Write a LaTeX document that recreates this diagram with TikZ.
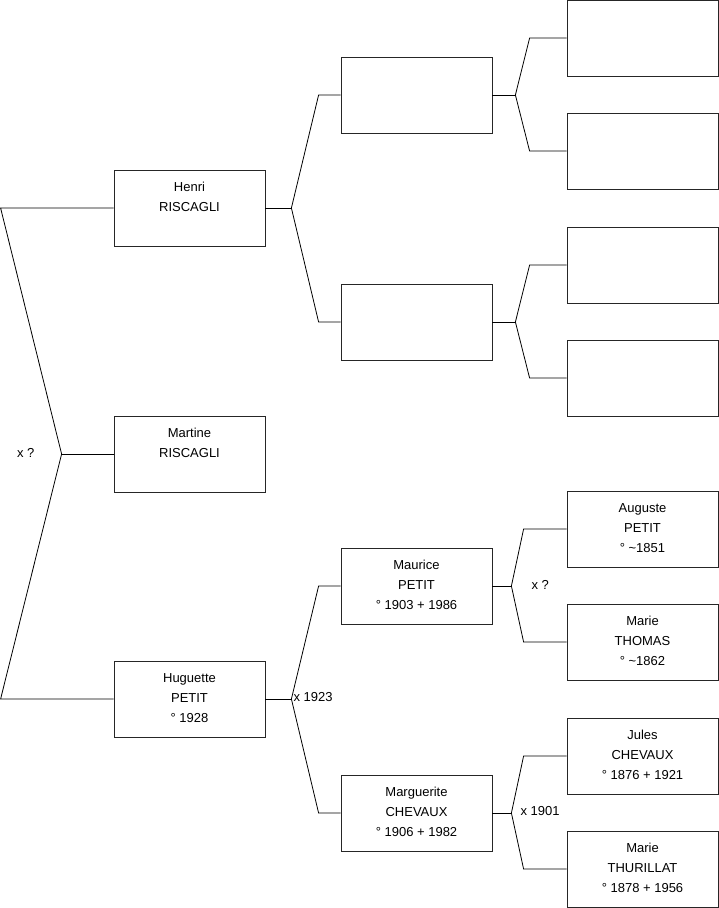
\documentclass[tikz,border=0pt]{standalone}
\usepackage{fontspec}
\setmainfont{Liberation Sans}
\usetikzlibrary{positioning}
\tikzset{
  person/.style={rectangle, draw=black!85, fill=white, line width=0.8pt,
                 minimum width=151pt, minimum height=76pt, inner sep=0pt},
  names/.style={align=center, inner sep=0pt, font=\fontsize{13}{20}\selectfont},
  union/.style={inner sep=0pt, yshift=1.5pt, font=\fontsize{13}{16}\selectfont},
  link/.style={draw=black, line width=0.8pt},
}

\begin{document}
\begin{tikzpicture}[x=1pt, y=-1pt]
  \useasboundingbox (0,0) rectangle (719,908);

  % generation 1
  \node[person] (henri) at (189.5,208) {};
  \node[names, below=12.5pt of henri.north] (henrit) {Henri\\RISCAGLI};
  \node[person] (martine) at (189.5,454) {};
  \node[names, below=12.5pt of martine.north] (martinet) {Martine\\RISCAGLI};
  \node[person] (huguette) at (189.5,699) {};
  \node[names, below=12.5pt of huguette.north] (huguettet) {Huguette\\PETIT\\° 1928};

  % generation 2
  \node[person] (pa) at (416.5,95) {};
  \node[person] (ma) at (416.5,322) {};
  \node[person] (maurice) at (416.5,586) {};
  \node[names, below=12.5pt of maurice.north] (mauricet) {Maurice\\PETIT\\° 1903 + 1986};
  \node[person] (marguerite) at (416.5,813) {};
  \node[names, below=12.5pt of marguerite.north] (margueritet) {Marguerite\\CHEVAUX\\° 1906 + 1982};

  % generation 3
  \node[person] (gpa) at (642.5,38) {};
  \node[person] (gma) at (642.5,151) {};
  \node[person] (gpb) at (642.5,265) {};
  \node[person] (gmb) at (642.5,378) {};
  \node[person] (auguste) at (642.5,529) {};
  \node[names, below=12.5pt of auguste.north] (augustet) {Auguste\\PETIT\\° \textasciitilde1851};
  \node[person] (marie) at (642.5,642) {};
  \node[names, below=12.5pt of marie.north] (mariet) {Marie\\THOMAS\\° \textasciitilde1862};
  \node[person] (jules) at (642.5,756) {};
  \node[names, below=12.5pt of jules.north] (julest) {Jules\\CHEVAUX\\° 1876 + 1921};
  \node[person] (mariethu) at (642.5,869) {};
  \node[names, below=12.5pt of mariethu.north] (mariethut) {Marie\\THURILLAT\\° 1878 + 1956};

  % root fork
  \coordinate[left=113pt of henri.west] (rtop);
  \coordinate[left=52pt of martine.west] (rfork);
  \coordinate[left=113pt of huguette.west] (rbot);
  \draw[link] (henri.west) -- (rtop) -- (rfork) -- (rbot) -- (huguette.west);
  \draw[link] (rfork) -- (martine.west);
  \node[union, left=27pt of rfork] (u0) {x ?};

  % henri's parents
  \coordinate[right=26pt of henri.east] (hfork);
  \coordinate[left=22pt of pa.west] (paend);
  \coordinate[left=22pt of ma.west] (maend);
  \draw[link] (henri.east) -- (hfork);
  \draw[link] (pa.west) -- (paend) -- (hfork) -- (maend) -- (ma.west);

  % huguette's parents
  \coordinate[right=26pt of huguette.east] (hgfork);
  \coordinate[left=22pt of maurice.west] (mauend);
  \coordinate[left=22pt of marguerite.west] (marend);
  \draw[link] (huguette.east) -- (hgfork);
  \draw[link] (maurice.west) -- (mauend) -- (hgfork) -- (marend) -- (marguerite.west);
  \node[union, right=2pt of hgfork, anchor=west] (u1) {x 1923};

  % grandparents, top
  \coordinate[right=23pt of pa.east] (pafork);
  \coordinate[left=37pt of gpa.west] (gpaend);
  \coordinate[left=37pt of gma.west] (gmaend);
  \draw[link] (pa.east) -- (pafork);
  \draw[link] (gpa.west) -- (gpaend) -- (pafork) -- (gmaend) -- (gma.west);

  \coordinate[right=23pt of ma.east] (mafork);
  \coordinate[left=37pt of gpb.west] (gpbend);
  \coordinate[left=37pt of gmb.west] (gmbend);
  \draw[link] (ma.east) -- (mafork);
  \draw[link] (gpb.west) -- (gpbend) -- (mafork) -- (gmbend) -- (gmb.west);

  % grandparents, bottom
  \coordinate[right=19pt of maurice.east] (mfork);
  \coordinate[left=43pt of auguste.west] (augend);
  \coordinate[left=43pt of marie.west] (mariend);
  \draw[link] (maurice.east) -- (mfork);
  \draw[link] (auguste.west) -- (augend) -- (mfork) -- (mariend) -- (marie.west);
  \node[union, right=20pt of mfork] (u2) {x ?};

  \coordinate[right=19pt of marguerite.east] (mgfork);
  \coordinate[left=43pt of jules.west] (julend);
  \coordinate[left=43pt of mariethu.west] (thuend);
  \draw[link] (marguerite.east) -- (mgfork);
  \draw[link] (jules.west) -- (julend) -- (mgfork) -- (thuend) -- (mariethu.west);
  \node[union, right=9pt of mgfork] (u3) {x 1901};

\end{tikzpicture}
\end{document}
